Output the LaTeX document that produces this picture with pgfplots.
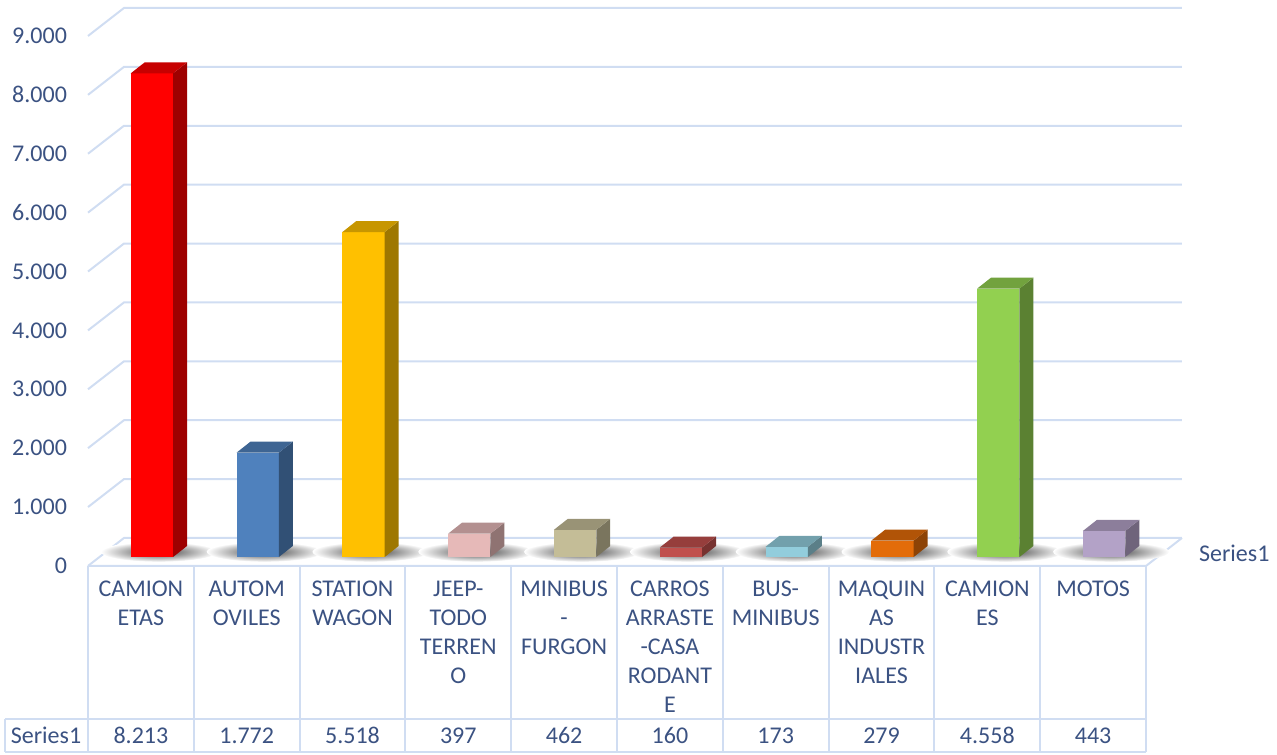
\documentclass[border=0pt]{standalone}
\usepackage{pgfplots}
\pgfplotsset{compat=1.18}
\usepackage{pgfplotstable}
\usepackage{fontspec}
\setmainfont{Carlito}
\definecolor{txt}{HTML}{3B5282}
\definecolor{gridc}{HTML}{D0DDF2}
\definecolor{c0}{HTML}{FF0000}
\definecolor{c1}{HTML}{4F81BD}
\definecolor{c2}{HTML}{FFC000}
\definecolor{c3}{HTML}{E6B9B8}
\definecolor{c4}{HTML}{C4BD97}
\definecolor{c5}{HTML}{C0504D}
\definecolor{c6}{HTML}{92CDDC}
\definecolor{c7}{HTML}{E36C09}
\definecolor{c8}{HTML}{92D050}
\definecolor{c9}{HTML}{B3A2C7}

\pgfplotstableread{
x y
0 8213
1 1772
2 5518
3 397
4 462
5 160
6 173
7 279
8 4558
9 443
}\datatable

\pgfkeys{/pgf/number format/.cd,1000 sep={.},assume math mode=true}
\newcommand\poly[2]{\edef\tmp{\noexpand\addplot[#1] coordinates {#2};}\tmp}

\begin{document}
\begin{tikzpicture}[font=\fontsize{12}{14.5}\selectfont]
\begin{axis}[
  scale only axis, width=529pt, height=265pt,
  xmin=-0.5, xmax=9.5, ymin=0, ymax=9000,
  axis lines=left, axis line style={draw=none},
  xtick=\empty,
  ytick={0,1000,...,9000},
  scaled y ticks=false,
  major tick length=0pt,
  yticklabel={\pgfmathprintnumber{\tick}},
  yticklabel style={text=txt, xshift=-7pt},
  clip=false,
]
% back wall and left wall grid
\pgfplotsinvokeforeach{0,1000,...,9000}{
  \pgfmathsetmacro\yb{#1+475}
  \poly{gridc, line width=1pt, mark=none, forget plot}{(-0.5,#1) (-0.16,\yb) (9.84,\yb)}
}
% floor
\addplot[gridc, line width=1pt, mark=none, forget plot] coordinates {(-0.5,0) (9.5,0) (9.84,475)};

% soft shadows on the floor
\pgfplotsinvokeforeach{0,...,9}{
  \shade[inner color=black!75, outer color=white] (axis cs:#1+0.17,240) ellipse [x radius=29pt, y radius=5pt];
}

% bars
\pgfplotsinvokeforeach{0,...,9}{
  \pgfplotstablegetelem{#1}{y}\of\datatable
  \pgfmathsetmacro\va{\pgfplotsretval+152}
  \pgfmathsetmacro\vb{\pgfplotsretval+339}
  \pgfmathsetmacro\xa{#1-0.096}
  \pgfmathsetmacro\xb{#1+0.304}
  \pgfmathsetmacro\xc{#1+0.436}
  \pgfmathsetmacro\xd{#1+0.036}
  \poly{fill=c#1, draw=none, mark=none, forget plot}{(\xa,152) (\xb,152) (\xb,\va) (\xa,\va)}
  \poly{fill=c#1!62!black, draw=none, mark=none, forget plot}{(\xb,152) (\xc,339) (\xc,\vb) (\xb,\va)}
  \poly{fill=c#1!78!black, draw=none, mark=none, forget plot}{(\xa,\va) (\xb,\va) (\xc,\vb) (\xd,\vb)}
  \pgfmathsetmacro\vv{\pgfplotsretval}
  \edef\tmp{\noexpand\node[text=txt, anchor=base] at (axis cs:#1,-3023) {\noexpand\pgfmathprintnumber{\vv}};}\tmp
}

% data table
\pgfplotsinvokeforeach{0,...,10}{
  \draw[gridc, line width=1pt] (axis cs:#1-0.5,0) -- (axis cs:#1-0.5,-3158);
}
\draw[gridc, line width=1pt] (axis cs:-1.284,-2598) -- (axis cs:9.5,-2598);
\draw[gridc, line width=1pt] (axis cs:-1.284,-3158) -- (axis cs:9.5,-3158);
\draw[gridc, line width=1pt] (axis cs:-1.284,-2598) -- (axis cs:-1.284,-3158);
\node[text=txt, anchor=base] at (axis cs:-0.897,-3023) {Series1};
\node[text=txt, anchor=west] at (axis cs:9.935,221) {Series1};

\pgfplotsforeachungrouped \i/\lab in {0/{CAMION\\ETAS}, 1/{AUTOM\\OVILES}, 2/{STATION\\WAGON}, 3/{JEEP-\\TODO\\TERREN\\O}, 4/{MINIBUS\\-\\FURGON}, 5/{CARROS\\ARRASTE\\-CASA\\RODANT\\E}, 6/{BUS-\\MINIBUS}, 7/{MAQUIN\\AS\\INDUSTR\\IALES}, 8/{CAMION\\ES}, 9/{MOTOS}}{
  \edef\tmp{\noexpand\node[text=txt, anchor=north, inner sep=0pt, align=center, text width=52pt] at (axis cs:\i,-246) {\unexpanded\expandafter{\lab}};}\tmp
}

\coordinate (tl) at (axis cs:-1.3318,9611);
\coordinate (br) at (axis cs:10.738,-3209);
\end{axis}
\pgfresetboundingbox
\path[use as bounding box] (tl) rectangle (br);
\end{tikzpicture}
\end{document}
